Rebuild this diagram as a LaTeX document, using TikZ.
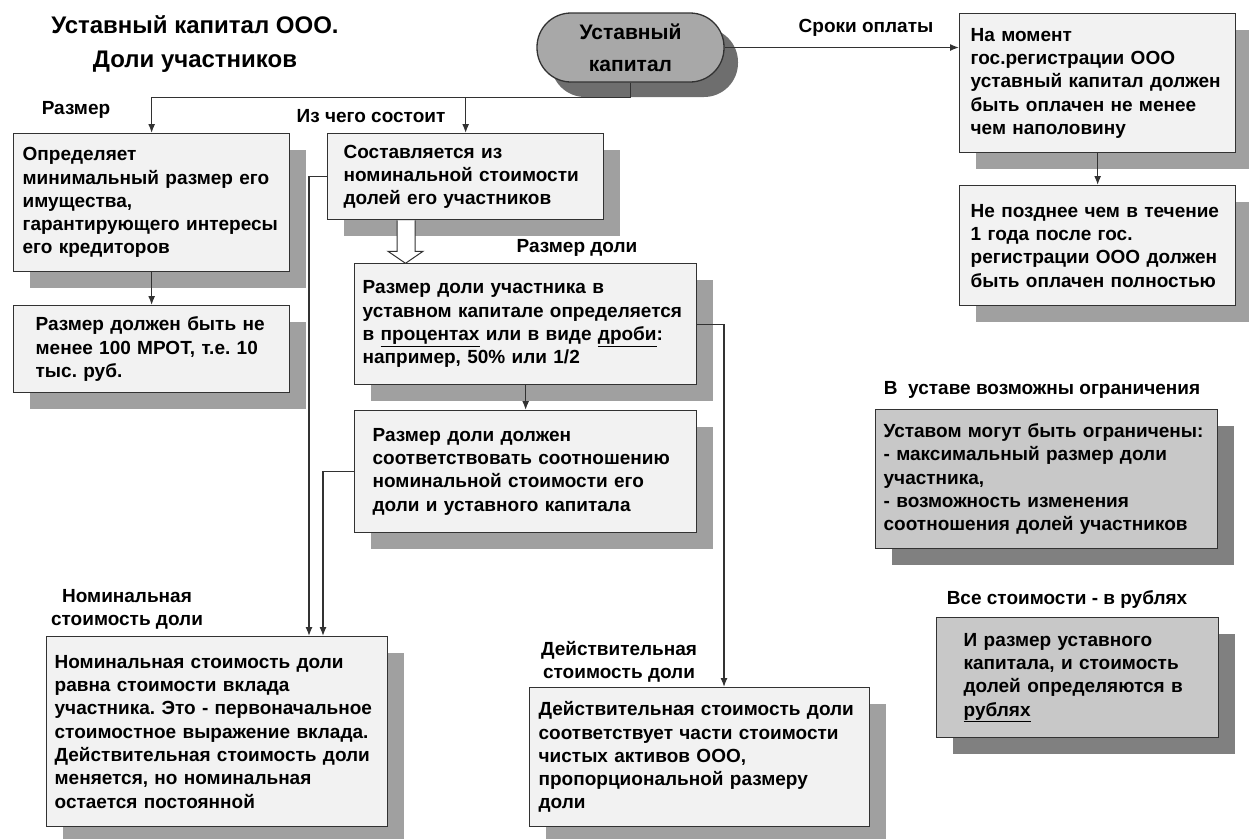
\documentclass[tikz,border=0pt]{standalone}
\usepackage{fontspec}
\setmainfont{Liberation Sans}
\usetikzlibrary{shadows,calc,arrows.meta}
\definecolor{boxfill}{RGB}{242,242,242}
\definecolor{boxshadow}{RGB}{160,160,160}
\definecolor{grayfill}{RGB}{200,200,200}
\definecolor{grayshadow}{RGB}{128,128,128}
\definecolor{ovalfill}{RGB}{168,168,168}
\definecolor{ovalshadow}{RGB}{110,110,110}
\definecolor{linecol}{RGB}{50,50,50}
\newcommand{\boxfont}{\fontsize{19}{23.3}\selectfont\bfseries}
\frenchspacing

\begin{document}
\begin{tikzpicture}[x=1pt,y=-1pt,>={Latex[length=9pt,width=7pt]},
    boxbase/.style={draw=linecol,line width=1.3pt,anchor=north west,align=left,inner ysep=3pt,font=\boxfont},
    box/.style={boxbase,fill=boxfill,drop shadow={shadow xshift=16pt,shadow yshift=-16pt,fill=boxshadow,opacity=1}},
    graybox/.style={boxbase,fill=grayfill,drop shadow={shadow xshift=16pt,shadow yshift=-16pt,fill=grayshadow,opacity=1}},
    label/.style={font=\boxfont,inner sep=0pt},
    conn/.style={->,draw=linecol,line width=1.3pt}]
    \useasboundingbox (0,0) rectangle (1249,838);

    % title and the main oval
    \node[font=\fontsize{24}{34}\selectfont\bfseries,align=center,inner sep=0pt] (title) at (195,44) {Уставный капитал ООО.\\Доли участников};
    \node[draw=linecol,line width=1.3pt,fill=ovalfill,rounded corners=34pt,minimum width=187pt,minimum height=69pt,
          align=center,font=\fontsize{21}{32}\selectfont\bfseries,
          drop shadow={shadow xshift=14pt,shadow yshift=-15pt,fill=ovalshadow,opacity=1}] (cap) at (630.5,47.5) {Уставный\\капитал};

    % left column
    \node[box,inner xsep=9pt,text width=258pt,minimum height=138pt] (opr) at (13,133)
        {Определяет\\минимальный размер его\\имущества,\\гарантирующего интересы\\его кредиторов};
    \node[box,inner xsep=22pt,text width=232pt,minimum height=87pt] (mrot) at (13,305)
        {Размер должен быть не\\менее 100 МРОТ, т.е. 10\\тыс. руб.};

    % middle column
    \node[box,inner xsep=16pt,text width=244pt,minimum height=86pt] (sost) at (327,133)
        {Составляется из\\номинальной стоимости\\долей его участников};
    \node[box,inner xsep=8pt,text width=326pt,minimum height=121pt] (rdu) at (354,263)
        {Размер доли участника в\\уставном капитале определяется\\в \underline{процентах} или в виде \underline{дроби}:\\например, 50\% или 1/2};
    \node[box,inner xsep=18pt,text width=306pt,minimum height=122pt] (rdd) at (354,410)
        {Размер доли должен\\соответствовать соотношению\\номинальной стоимости его\\доли и уставного капитала};

    % right column
    \node[box,inner xsep=11pt,text width=254pt,minimum height=139pt] (nam) at (959,13)
        {На момент\\гос.регистрации ООО\\уставный капитал должен\\быть оплачен не менее\\чем наполовину};
    \node[box,inner xsep=11pt,text width=254pt,minimum height=120pt] (npz) at (959,185)
        {Не позднее чем в течение\\1 года после гос.\\регистрации ООО должен\\быть оплачен полностью};
    \node[graybox,inner xsep=8pt,text width=326pt,minimum height=139pt] (ogr) at (875,409)
        {Уставом могут быть ограничены:\\- максимальный размер доли\\участника,\\- возможность изменения\\соотношения долей участников};
    \node[graybox,inner xsep=27pt,text width=228pt,minimum height=120pt] (rub) at (936,617)
        {И размер уставного\\капитала, и стоимость\\долей определяются в\\\underline{рублях}};

    % bottom boxes
    \node[box,inner xsep=8pt,text width=325pt,minimum height=190pt] (nom) at (46,636)
        {Номинальная стоимость доли\\равна стоимости вклада\\участника. Это - первоначальное\\стоимостное выражение вклада.\\Действительная стоимость доли\\меняется, но номинальная\\остается постоянной};
    \node[box,inner xsep=9pt,text width=322pt,minimum height=139pt] (dst) at (529,687)
        {Действительная стоимость доли\\соответствует части стоимости\\чистых активов ООО,\\пропорциональной размеру\\доли};

    % labels
    \node[label] (lrazm) at (76,110) {Размер};
    \node[label] (lsost) at (371,116) {Из чего состоит};
    \node[label] (ldoli) at (577,248) {Размер доли};
    \node[label] (lsrok) at (866,28) {Сроки оплаты};
    \node[label] (logr) at (1042,390) {В\ \ уставе возможны ограничения};
    \node[label] (lrub) at (1067,599) {Все стоимости - в рублях};
    \node[label,align=center] (lnom) at (127,609) {Номинальная\\стоимость доли};
    \node[label,align=center] (ldst) at (619,662) {Действительная\\стоимость доли};

    % connectors
    \coordinate (bus) at ($(cap.south)+(0,15)$);
    \draw[conn] (cap.south) -- (bus) -| (opr.north);
    \draw[conn] (bus -| sost.north) -- (sost.north);
    \draw[conn] (cap.east) -- (cap.east -| nam.west);
    \draw[conn] (nam.south) -- (npz.north);
    \draw[conn] (opr.south) -- (mrot.north);
    \draw[conn] (rdu.south) -- (rdd.north);
    \coordinate (n1) at ($(nom.north west)+(263,0)$);
    \coordinate (n2) at ($(nom.north west)+(277,0)$);
    \draw[conn] (sost.west) -| (n1);
    \draw[conn] (rdd.west) -| (n2);
    \coordinate (d1) at ($(dst.north west)+(195,0)$);
    \draw[conn] (rdu.east) -| (d1);

    % hollow arrow
    \draw[draw=linecol,line width=1pt,fill=white] ($(sost.south west)+(70,0)$) -- ++(0,31) -- ++(-9,0)
        -- ++(17.5,12) -- ++(17.5,-12) -- ++(-8,0) -- ++(0,-31);
\end{tikzpicture}
\end{document}
